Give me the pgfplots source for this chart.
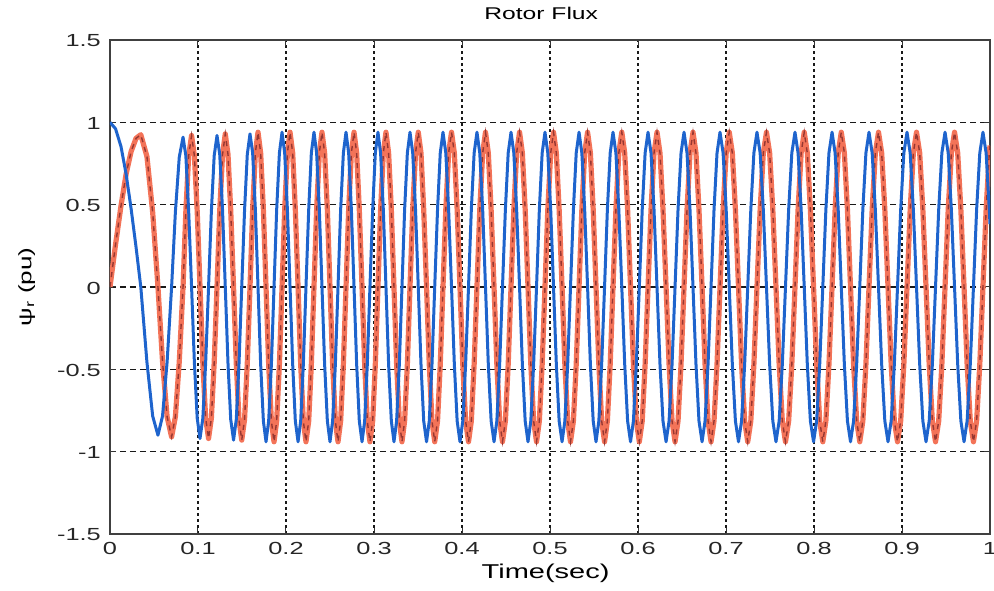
\documentclass[border=0pt]{standalone}
\usepackage{fontspec}
\setmainfont{Liberation Sans}[FakeStretch=1.45]
\usepackage{pgfplots}
\usepackage{pgfplotstable}
\pgfplotsset{compat=1.18}

\definecolor{fluxblue}{RGB}{30,100,205}
\definecolor{fluxred}{RGB}{243,115,88}
\definecolor{fluxdark}{RGB}{150,55,50}

% time, psi_r alpha (blue), psi_r beta (red)
\pgfplotstableread{
t b r
0.0000 1.000 0.000
0.0063 0.961 0.258
0.0125 0.853 0.493
0.0183 0.686 0.686
0.0240 0.475 0.823
0.0296 0.242 0.903
0.0350 0.000 0.925
0.0420 -0.458 0.792
0.0485 -0.784 0.453
0.0545 -0.900 0.000
0.0597 -0.784 -0.453
0.0649 -0.455 -0.788
0.0700 0.000 -0.910
0.0743 0.455 -0.788
0.0787 0.788 -0.455
0.0830 0.910 0.000
0.0862 0.797 0.460
0.0894 0.460 0.797
0.0927 0.000 0.920
0.0959 -0.460 0.797
0.0991 -0.797 0.460
0.1023 -0.920 0.000
0.1055 -0.797 -0.460
0.1087 -0.460 -0.797
0.1120 0.000 -0.920
0.1152 0.460 -0.797
0.1184 0.797 -0.460
0.1216 0.920 0.000
0.1247 0.805 0.465
0.1279 0.465 0.805
0.1310 0.000 0.930
0.1341 -0.465 0.805
0.1372 -0.805 0.465
0.1404 -0.930 0.000
0.1435 -0.805 -0.465
0.1466 -0.465 -0.805
0.1497 0.000 -0.930
0.1529 0.465 -0.805
0.1560 0.805 -0.465
0.1591 0.930 0.000
0.1621 0.814 0.470
0.1652 0.470 0.814
0.1682 0.000 0.940
0.1712 -0.470 0.814
0.1743 -0.814 0.470
0.1773 -0.940 0.000
0.1803 -0.814 -0.470
0.1834 -0.470 -0.814
0.1864 0.000 -0.940
0.1894 0.470 -0.814
0.1925 0.814 -0.470
0.1955 0.940 0.000
0.1985 0.814 0.470
0.2016 0.470 0.814
0.2046 0.000 0.940
0.2076 -0.470 0.814
0.2106 -0.814 0.470
0.2137 -0.940 0.000
0.2167 -0.814 -0.470
0.2197 -0.470 -0.814
0.2227 0.000 -0.940
0.2258 0.470 -0.814
0.2288 0.814 -0.470
0.2318 0.940 0.000
0.2348 0.814 0.470
0.2379 0.470 0.814
0.2409 0.000 0.940
0.2439 -0.470 0.814
0.2470 -0.814 0.470
0.2500 -0.940 0.000
0.2530 -0.814 -0.470
0.2561 -0.470 -0.814
0.2591 0.000 -0.940
0.2621 0.470 -0.814
0.2652 0.814 -0.470
0.2682 0.940 0.000
0.2712 0.814 0.470
0.2743 0.470 0.814
0.2773 0.000 0.940
0.2803 -0.470 0.814
0.2833 -0.814 0.470
0.2864 -0.940 0.000
0.2894 -0.814 -0.470
0.2924 -0.470 -0.814
0.2954 0.000 -0.940
0.2985 0.470 -0.814
0.3015 0.814 -0.470
0.3045 0.940 0.000
0.3075 0.814 0.470
0.3106 0.470 0.814
0.3136 0.000 0.940
0.3166 -0.470 0.814
0.3197 -0.814 0.470
0.3227 -0.940 0.000
0.3257 -0.814 -0.470
0.3288 -0.470 -0.814
0.3318 0.000 -0.940
0.3348 0.470 -0.814
0.3379 0.814 -0.470
0.3409 0.940 0.000
0.3440 0.814 0.470
0.3472 0.470 0.814
0.3503 0.000 0.940
0.3534 -0.470 0.814
0.3565 -0.814 0.470
0.3597 -0.940 0.000
0.3628 -0.814 -0.470
0.3659 -0.470 -0.814
0.3690 0.000 -0.940
0.3722 0.470 -0.814
0.3753 0.814 -0.470
0.3784 0.940 0.000
0.3816 0.814 0.470
0.3848 0.470 0.814
0.3881 0.000 0.940
0.3913 -0.470 0.814
0.3945 -0.814 0.470
0.3977 -0.940 0.000
0.4009 -0.814 -0.470
0.4041 -0.470 -0.814
0.4074 0.000 -0.940
0.4106 0.470 -0.814
0.4138 0.814 -0.470
0.4170 0.940 0.000
0.4202 0.814 0.470
0.4235 0.470 0.814
0.4267 0.000 0.940
0.4299 -0.470 0.814
0.4331 -0.814 0.470
0.4364 -0.940 0.000
0.4396 -0.814 -0.470
0.4428 -0.470 -0.814
0.4460 0.000 -0.940
0.4493 0.470 -0.814
0.4525 0.814 -0.470
0.4557 0.940 0.000
0.4589 0.814 0.470
0.4621 0.470 0.814
0.4654 0.000 0.940
0.4686 -0.470 0.814
0.4718 -0.814 0.470
0.4750 -0.940 0.000
0.4782 -0.814 -0.470
0.4814 -0.470 -0.814
0.4847 0.000 -0.940
0.4879 0.470 -0.814
0.4911 0.814 -0.470
0.4943 0.940 0.000
0.4975 0.814 0.470
0.5008 0.470 0.814
0.5040 0.000 0.940
0.5072 -0.470 0.814
0.5104 -0.814 0.470
0.5137 -0.940 0.000
0.5169 -0.814 -0.470
0.5201 -0.470 -0.814
0.5233 0.000 -0.940
0.5266 0.470 -0.814
0.5298 0.814 -0.470
0.5330 0.940 0.000
0.5362 0.814 0.470
0.5394 0.470 0.814
0.5427 0.000 0.940
0.5459 -0.470 0.814
0.5491 -0.814 0.470
0.5523 -0.940 0.000
0.5555 -0.814 -0.470
0.5587 -0.470 -0.814
0.5620 0.000 -0.940
0.5652 0.470 -0.814
0.5684 0.814 -0.470
0.5716 0.940 0.000
0.5749 0.814 0.470
0.5782 0.470 0.814
0.5816 0.000 0.940
0.5849 -0.470 0.814
0.5882 -0.814 0.470
0.5915 -0.940 0.000
0.5948 -0.814 -0.470
0.5981 -0.470 -0.814
0.6015 0.000 -0.940
0.6048 0.470 -0.814
0.6081 0.814 -0.470
0.6114 0.940 0.000
0.6148 0.814 0.470
0.6182 0.470 0.814
0.6216 0.000 0.940
0.6250 -0.470 0.814
0.6284 -0.814 0.470
0.6319 -0.940 0.000
0.6353 -0.814 -0.470
0.6387 -0.470 -0.814
0.6421 0.000 -0.940
0.6455 0.470 -0.814
0.6489 0.814 -0.470
0.6523 0.940 0.000
0.6557 0.814 0.470
0.6591 0.470 0.814
0.6625 0.000 0.940
0.6659 -0.470 0.814
0.6693 -0.814 0.470
0.6728 -0.940 0.000
0.6762 -0.814 -0.470
0.6796 -0.470 -0.814
0.6830 0.000 -0.940
0.6864 0.470 -0.814
0.6898 0.814 -0.470
0.6932 0.940 0.000
0.6967 0.814 0.470
0.7002 0.470 0.814
0.7037 0.000 0.940
0.7072 -0.470 0.814
0.7107 -0.814 0.470
0.7142 -0.940 0.000
0.7177 -0.814 -0.470
0.7212 -0.470 -0.814
0.7247 0.000 -0.940
0.7282 0.470 -0.814
0.7317 0.814 -0.470
0.7352 0.940 0.000
0.7388 0.814 0.470
0.7424 0.470 0.814
0.7460 0.000 0.940
0.7496 -0.470 0.814
0.7532 -0.814 0.470
0.7568 -0.940 0.000
0.7604 -0.814 -0.470
0.7640 -0.470 -0.814
0.7676 0.000 -0.940
0.7712 0.470 -0.814
0.7748 0.814 -0.470
0.7784 0.940 0.000
0.7819 0.814 0.470
0.7854 0.470 0.814
0.7889 0.000 0.940
0.7924 -0.470 0.814
0.7959 -0.814 0.470
0.7995 -0.940 0.000
0.8030 -0.814 -0.470
0.8065 -0.470 -0.814
0.8100 0.000 -0.940
0.8135 0.470 -0.814
0.8170 0.814 -0.470
0.8205 0.940 0.000
0.8240 0.814 0.470
0.8275 0.470 0.814
0.8310 0.000 0.940
0.8345 -0.470 0.814
0.8380 -0.814 0.470
0.8415 -0.940 0.000
0.8450 -0.814 -0.470
0.8485 -0.470 -0.814
0.8520 0.000 -0.940
0.8555 0.470 -0.814
0.8590 0.814 -0.470
0.8625 0.940 0.000
0.8661 0.814 0.470
0.8697 0.470 0.814
0.8733 0.000 0.940
0.8769 -0.470 0.814
0.8805 -0.814 0.470
0.8841 -0.940 0.000
0.8877 -0.814 -0.470
0.8913 -0.470 -0.814
0.8949 0.000 -0.940
0.8985 0.470 -0.814
0.9021 0.814 -0.470
0.9057 0.940 0.000
0.9093 0.814 0.470
0.9129 0.470 0.814
0.9165 0.000 0.940
0.9201 -0.470 0.814
0.9237 -0.814 0.470
0.9273 -0.940 0.000
0.9309 -0.814 -0.470
0.9345 -0.470 -0.814
0.9381 0.000 -0.940
0.9417 0.470 -0.814
0.9453 0.814 -0.470
0.9489 0.940 0.000
0.9525 0.814 0.470
0.9561 0.470 0.814
0.9597 0.000 0.940
0.9633 -0.470 0.814
0.9669 -0.814 0.470
0.9705 -0.940 0.000
0.9740 -0.814 -0.470
0.9776 -0.470 -0.814
0.9812 0.000 -0.940
0.9848 0.470 -0.814
0.9884 0.814 -0.470
0.9920 0.940 0.000
0.9956 0.814 0.470
0.9992 0.470 0.814
1.0000 0.382 0.859
}\flux

\begin{document}
\begin{tikzpicture}
\begin{axis}[
    at={(0,0)}, anchor=south west,
    scale only axis,
    width=880pt, height=494pt,
    xmin=0, xmax=1,
    ymin=-1.5, ymax=1.5,
    xtick={0,0.1,0.2,0.3,0.4,0.5,0.6,0.7,0.8,0.9,1},
    xticklabels={0,0.1,0.2,0.3,0.4,0.5,0.6,0.7,0.8,0.9,1},
    ytick={-1.5,-1,-0.5,0,0.5,1,1.5},
    yticklabels={-1.5,-1,-0.5,0,0.5,1,1.5},
    tick label style={font=\fontsize{17.5}{20}\selectfont, text=black!85},
    xticklabel style={anchor=base, yshift=-21pt, inner sep=0pt},
    yticklabel style={anchor=east, xshift=-9pt, yshift=-1pt, inner sep=0pt},
    tick align=inside,
    major tick length=6pt,
    tick style={black!80, line width=1pt},
    axis line style={black!75, line width=1.4pt},
    grid=major,
    x grid style={black!90, line width=1.4pt, dash pattern=on 3pt off 3pt},
    y grid style={black!90, line width=1.4pt, dash pattern=on 6pt off 4pt},
    title={Rotor Flux},
    title style={font=\fontsize{17}{20}\selectfont, at={(axis description cs:0.49,1)}, anchor=base, yshift=14pt},
    xlabel={Time(sec)},
    xlabel style={font=\fontsize{20}{24}\selectfont, at={(axis description cs:0.495,0)}, anchor=base, yshift=-45pt},
    ylabel={ψ\textsubscript{r} (pu)},
    ylabel style={font=\fontsize{18}{21}\selectfont, at={(axis description cs:-0.0945,0.5)}, anchor=center},
]
% red trace with its dark dashed overlay
\addplot[fluxred, line width=5.2pt, line join=round] table[x=t, y=r]{\flux};
\addplot[fluxdark, line width=1.4pt, dash pattern=on 5pt off 5pt] table[x=t, y=r]{\flux};
% blue trace
\addplot[fluxblue, line width=3pt, line join=round] table[x=t, y=b]{\flux};
\end{axis}
\pgfresetboundingbox
\path (-110pt,-57pt) rectangle (884pt,534pt);
\end{tikzpicture}
\end{document}
